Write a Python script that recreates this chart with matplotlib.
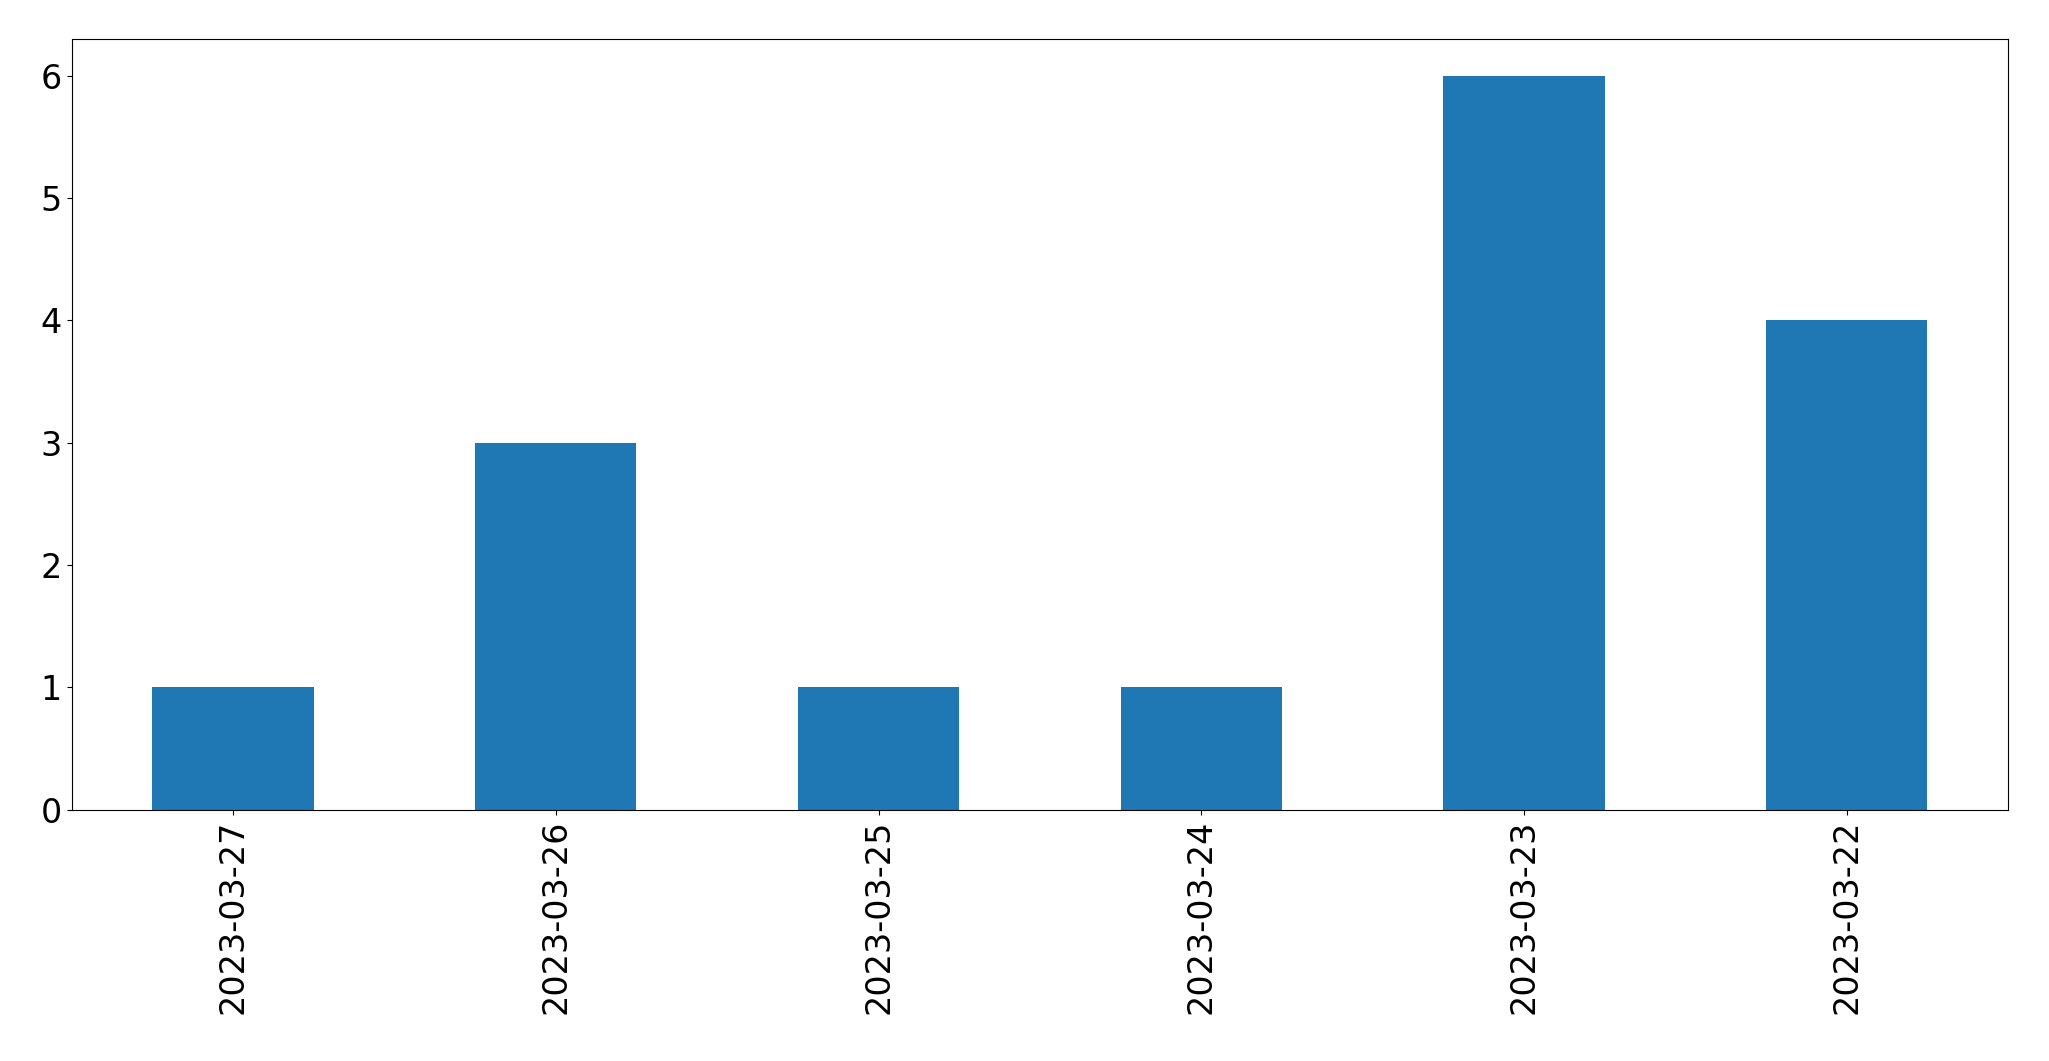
import pandas as pd
import matplotlib
matplotlib.use("Agg")
import matplotlib.pyplot as plt

dates = ["2023-03-27", "2023-03-26", "2023-03-25", "2023-03-24", "2023-03-23", "2023-03-22"]
counts = [1, 3, 1, 1, 6, 4]

data = pd.Series(counts, index=dates)

plt.rcParams.update({'font.size': 24})
fig = plt.figure(figsize=(20.49, 10.61), dpi=100)
ax = fig.add_axes([0.035, 0.237, 0.945, 0.726])
data.plot.bar(ax=ax, color='#1f77b4')
ax.set_xlabel("")
fig.savefig("out.png", dpi=100)
